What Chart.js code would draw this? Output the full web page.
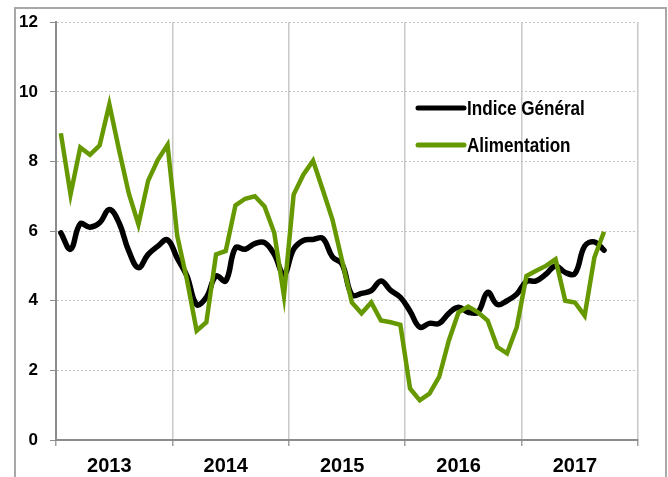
<!DOCTYPE html>
<html>
<head>
<meta charset="utf-8">
<script src="https://cdn.jsdelivr.net/npm/chart.js@4/dist/chart.umd.min.js"></script>
<style>
  html, body { margin: 0; padding: 0; background: #ffffff; }
  #wrap { position: relative; width: 668px; height: 477px; }
</style>
</head>
<body>
<div id="wrap"><canvas id="c" width="668" height="477"></canvas></div>
<script>
// ---- data ----
const years = ['2013', '2014', '2015', '2016', '2017'];
const months = [];
years.forEach(y => { for (let m = 1; m <= 12; m++) months.push(y + '-' + String(m).padStart(2, '0')); });

const seriesNames = ['Indice Général', 'Alimentation'];

const indiceGeneral = [
  5.95, 5.48, 6.21, 6.11, 6.24, 6.62, 6.24, 5.43, 4.95, 5.33, 5.57, 5.75,
  5.22, 4.71, 3.89, 4.10, 4.71, 4.57, 5.52, 5.48, 5.64, 5.67, 5.33, 4.76,
  5.48, 5.73, 5.76, 5.79, 5.26, 5.05, 4.17, 4.21, 4.29, 4.57, 4.30, 4.10,
  3.70, 3.24, 3.35, 3.35, 3.64, 3.81, 3.67, 3.67, 4.24, 3.89, 4.00, 4.19,
  4.55, 4.57, 4.76, 5.00, 4.81, 4.78, 5.57, 5.69, 5.45
];

const alimentation = [
  8.81, 7.05, 8.40, 8.19, 8.46, 9.64, 8.33, 7.09, 6.19, 7.45, 8.05, 8.48,
  5.86, 4.60, 3.14, 3.38, 5.33, 5.43, 6.74, 6.93, 7.00, 6.71, 5.95, 4.14,
  7.05, 7.62, 8.02, 7.19, 6.33, 5.14, 3.95, 3.64, 3.95, 3.43, 3.38, 3.31,
  1.48, 1.14, 1.33, 1.81, 2.86, 3.67, 3.83, 3.67, 3.43, 2.67, 2.49, 3.24,
  4.71, 4.86, 5.00, 5.19, 4.00, 3.95, 3.57, 5.24, 5.98
];

const yTicks = [0, 2, 4, 6, 8, 10, 12];

const BLACK = '#000000';
const GREEN = '#669900';

// frame + legend drawn inside the canvas
const framePlugin = {
  id: 'frame',
  beforeDraw(chart) {
    const ctx = chart.ctx;
    ctx.save();
    ctx.strokeStyle = '#a8a8a8';
    ctx.lineWidth = 2;
    ctx.strokeRect(15, 8, 651, 490);
    ctx.restore();
  }
};

const legendPlugin = {
  id: 'customLegend',
  afterDraw(chart) {
    const ctx = chart.ctx;
    const items = [
      { text: seriesNames[0], color: BLACK, y: 108 },
      { text: seriesNames[1], color: GREEN, y: 145 }
    ];
    items.forEach(it => {
      ctx.save();
      ctx.strokeStyle = it.color;
      ctx.lineWidth = 5;
      ctx.lineCap = 'round';
      ctx.beginPath();
      ctx.moveTo(418, it.y);
      ctx.lineTo(464, it.y);
      ctx.stroke();
      ctx.fillStyle = '#000';
      ctx.font = "bold 20px 'Liberation Sans', Arial, sans-serif";
      ctx.textBaseline = 'middle';
      ctx.textAlign = 'left';
      ctx.translate(467, it.y + 1);
      ctx.scale(0.855, 1);
      ctx.fillText(it.text, 0, 0);
      ctx.restore();
    });
  }
};

new Chart(document.getElementById('c'), {
  type: 'line',
  data: {
    labels: months,
    datasets: [
      {
        label: seriesNames[0],
        data: indiceGeneral,
        borderColor: BLACK,
        borderWidth: 5.5,
        tension: 0.4,
        pointRadius: 0,
        borderCapStyle: 'round',
        borderJoinStyle: 'round',
        fill: false,
        order: 2
      },
      {
        label: seriesNames[1],
        data: alimentation,
        borderColor: GREEN,
        borderWidth: 4.5,
        tension: 0,
        pointRadius: 0,
        borderCapStyle: 'butt',
        borderJoinStyle: 'miter',
        fill: false,
        order: 1
      }
    ]
  },
  options: {
    responsive: false,
    animation: false,
    devicePixelRatio: 1,
    layout: { padding: { left: 0, right: 30, top: 20, bottom: 0 } },
    plugins: {
      legend: { display: false },
      tooltip: { enabled: false },
      title: { display: false }
    },
    scales: {
      x: {
        type: 'category',
        offset: true,
        afterFit(scale) { scale.height = 37; },
        grid: {
          offset: true,
          drawOnChartArea: true,
          color: (ctx) => (ctx.index === undefined || ctx.index % 12 === 0) ? '#c8c8c8' : 'rgba(0,0,0,0)',
          tickColor: (ctx) => (ctx.index === undefined || ctx.index % 12 === 0) ? '#a0a0a0' : 'rgba(0,0,0,0)',
          lineWidth: 1.5,
          tickLength: 6
        },
        border: { display: true, color: '#8c8c8c', width: 2 },
        ticks: {
          autoSkip: false,
          maxRotation: 0,
          minRotation: 0,
          padding: 8,
          color: '#000',
          font: { family: "'Liberation Sans', Arial, sans-serif", size: 20, weight: 'bold' },
          callback: function (val, i) { return i % 12 === 5 ? years[Math.floor(i / 12)] : ''; }
        }
      },
      y: {
        min: 0,
        max: 12,
        afterFit(scale) { scale.width = 56; },
        afterBuildTicks(scale) { scale.ticks = yTicks.map(v => ({ value: v })); },
        grid: {
          color: '#c4c4c4',
          lineWidth: 1,
          tickColor: '#8c8c8c',
          tickLength: 6
        },
        border: { display: true, color: '#8c8c8c', width: 2, dash: [2, 2] },
        ticks: {
          padding: 12,
          color: '#000',
          font: { family: "'Liberation Sans', Arial, sans-serif", size: 17, weight: 'bold' }
        }
      }
    }
  },
  plugins: [framePlugin, legendPlugin]
});
</script>
</body>
</html>
